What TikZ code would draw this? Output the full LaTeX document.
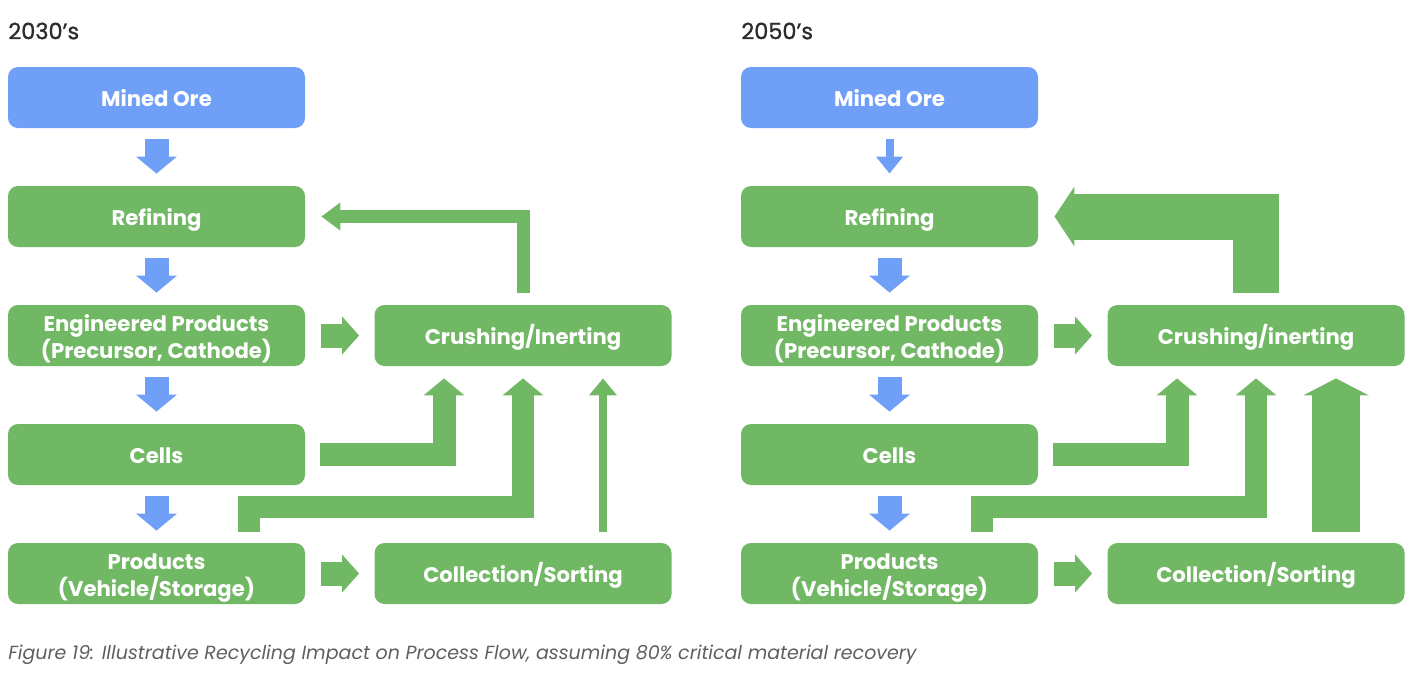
\documentclass[tikz,border=0pt]{standalone}
\usepackage{fontspec}
\setmainfont{Poppins}
\newfontfamily\headfont{Poppins}[FakeBold=1.2]
\usetikzlibrary{arrows.meta}
\definecolor{oreblue}{RGB}{112,159,248}
\definecolor{flowgreen}{RGB}{113,184,101}
\definecolor{titlegray}{RGB}{45,45,45}
\definecolor{captiongray}{RGB}{95,95,95}

\begin{document}
\begin{tikzpicture}[x=0.5pt,y=-0.5pt,
    stagebox/.style={fill=flowgreen, rounded corners=5pt, minimum width=148.5pt, minimum height=30.5pt,
      inner sep=0pt, align=center, text=white, font=\fontsize{10.6}{13.5}\selectfont\bfseries,
      text height=9.4pt, text depth=0pt},
    twoline/.style={text height=23.4pt},
    orebox/.style={stagebox, fill=oreblue},
    downflow/.style={draw=oreblue, line width=12pt, shorten <=5.5pt, shorten >=6pt,
      -{Triangle[width=20pt,length=8.5pt]}},
    feed/.style={draw=flowgreen, line width=12pt, shorten <=8pt, shorten >=7.5pt,
      -{Triangle[width=18.5pt,length=8.5pt]}},
    recycle/.style n args={3}{draw=flowgreen, line width=#1, -{Triangle[width=#2,length=#3]}},
    heading/.style={anchor=west, inner sep=0pt, text=titlegray, font=\fontsize{11.2}{13}\headfont}]
  \useasboundingbox (0,0) rectangle (1417,675);

  % 2030's
  \node [heading] (title30) at (8,31) {2030’s};
  \node [orebox] (ore30) at (156.5,97.5) {Mined Ore};
  \node [stagebox] (ref30) at (156.5,216.5) {Refining};
  \node [stagebox, twoline] (eng30) at (156.5,335.5) {Engineered Products\\(Precursor, Cathode)};
  \node [stagebox] (cel30) at (156.5,454.5) {Cells};
  \node [stagebox, twoline] (pro30) at (156.5,573.5) {Products\\(Vehicle/Storage)};
  \node [stagebox] (cru30) at (523,335.5) {Crushing/Inerting};
  \node [stagebox] (col30) at (523,573.5) {Collection/Sorting};
  \draw [downflow] (ore30) -- (ref30);
  \draw [downflow] (ref30) -- (eng30);
  \draw [downflow] (eng30) -- (cel30);
  \draw [downflow] (cel30) -- (pro30);
  \draw [feed] (eng30) -- (cru30);
  \draw [feed] (pro30) -- (col30);
  \draw [recycle={6.5pt}{13.5pt}{9.5pt}] ([yshift=6pt]cru30.north) |- ([xshift=8pt]ref30.east);
  \draw [recycle={11.5pt}{20pt}{8.5pt}] ([xshift=7.5pt]cel30.east) -| ([xshift=-39.5pt,yshift=-6pt]cru30.south);
  \draw [recycle={11pt}{20pt}{8.5pt}] ([xshift=46.25pt,yshift=5.5pt]pro30.north) -- ++(0,-24.5) -| ([yshift=-6pt]cru30.south);
  \draw [recycle={4pt}{13.5pt}{8.5pt}] ([xshift=40pt,yshift=5.5pt]col30.north) -- ([xshift=40pt,yshift=-6pt]cru30.south);

  % 2050's
  \node [heading] (title50) at (741,31) {2050’s};
  \node [orebox] (ore50) at (889.5,97.5) {Mined Ore};
  \node [stagebox] (ref50) at (889.5,216.5) {Refining};
  \node [stagebox, twoline] (eng50) at (889.5,335.5) {Engineered Products\\(Precursor, Cathode)};
  \node [stagebox] (cel50) at (889.5,454.5) {Cells};
  \node [stagebox, twoline] (pro50) at (889.5,573.5) {Products\\(Vehicle/Storage)};
  \node [stagebox] (cru50) at (1256,335.5) {Crushing/inerting};
  \node [stagebox] (col50) at (1256,573.5) {Collection/Sorting};
  \draw [downflow, line width=4pt, -{Triangle[width=13pt,length=8.5pt]}] (ore50) -- (ref50);
  \draw [downflow] (ref50) -- (eng50);
  \draw [downflow] (eng50) -- (cel50);
  \draw [downflow] (cel50) -- (pro50);
  \draw [feed] (eng50) -- (cru50);
  \draw [feed] (pro50) -- (col50);
  \draw [recycle={23pt}{29.5pt}{10pt}] ([yshift=6pt]cru50.north) |- ([xshift=8pt]ref50.east);
  \draw [recycle={11.5pt}{20pt}{8.5pt}] ([xshift=7.5pt]cel50.east) -| ([xshift=-39.5pt,yshift=-6pt]cru50.south);
  \draw [recycle={11pt}{20pt}{8.5pt}] ([xshift=46.25pt,yshift=5.5pt]pro50.north) -- ++(0,-24.5) -| ([yshift=-6pt]cru50.south);
  \draw [recycle={24pt}{32.5pt}{8.5pt}] ([xshift=40pt,yshift=5.5pt]col50.north) -- ([xshift=40pt,yshift=-6pt]cru50.south);

  \node [anchor=west, inner sep=0pt, text=captiongray, font=\fontsize{9.5}{11}\selectfont\itshape] (caption) at (8,655)
    {Figure 19: Illustrative Recycling Impact on Process Flow, assuming 80\% critical material recovery};
\end{tikzpicture}
\end{document}
